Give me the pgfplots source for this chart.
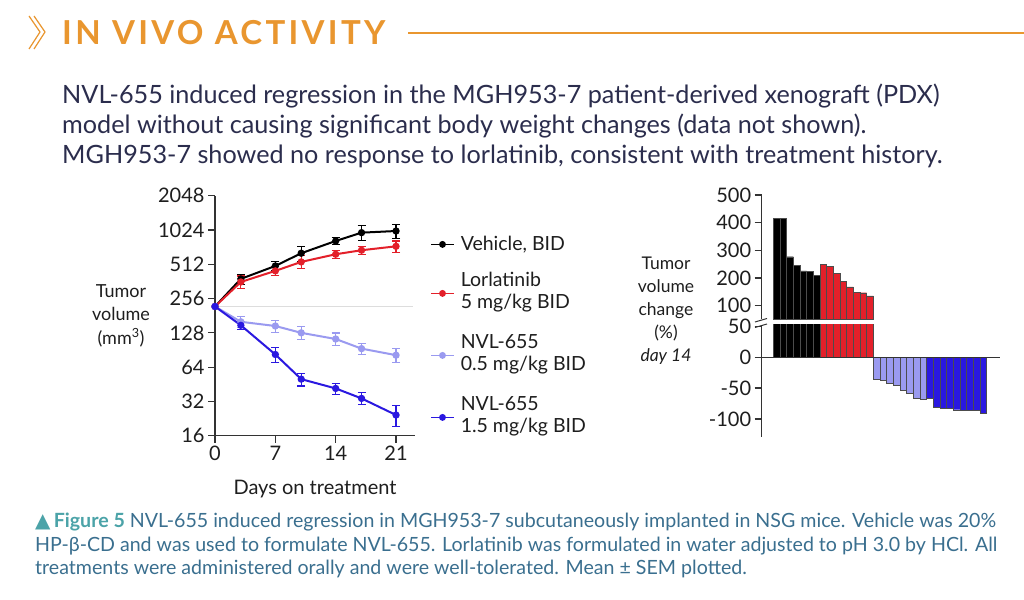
\documentclass[border=0pt]{standalone}
\usepackage{pgfplots}
\pgfplotsset{compat=1.18}
\usepackage{fontspec}
\setmainfont{Lato}
\newfontfamily\symfont{DejaVu Sans}
\definecolor{orangeT}{HTML}{E9962F}
\definecolor{navy}{HTML}{2B2D4D}
\definecolor{capT}{HTML}{3A6F8F}
\definecolor{capB}{HTML}{4BA3A8}
\definecolor{axc}{HTML}{333333}
\definecolor{txt}{HTML}{1E1E1E}
\definecolor{redC}{HTML}{E3202A}
\definecolor{lblue}{HTML}{9A9AF0}
\definecolor{dblue}{HTML}{2A18E0}
\definecolor{baseg}{HTML}{DDDDDD}

\pgfplotsset{
  errs/.style={forget plot, only marks, mark=none,
    error bars/.cd, y dir=both, y explicit,
    error bar style={color=#1, line width=1.1pt},
    error mark options={rotate=90, mark size=4pt, color=#1, line width=1.1pt}},
  ser/.style={color=#1, line width=2pt, mark=*, mark size=2.6pt, mark options={solid, fill=#1}},
  common/.style={
    scale only axis,
    axis line style={-, line width=1.2pt, color=axc},
    tick align=outside, major tick length=7pt,
    tick style={line width=1.2pt, color=axc},
    ticklabel style={font=\fontsize{20}{20}\selectfont, text=txt},
    /pgf/number format/assume math mode=true,
  },
  bars/.style={ybar, bar shift=0pt, bar width=1, fill=#1, draw=black!70, line width=0.4pt},
}

\begin{document}
\begin{tikzpicture}[x=1pt,y=1pt]
\path[fill=white,use as bounding box] (0,0) rectangle (1024,599);

% header
\draw[orangeT, line width=1.2pt] (29,583) -- (40,567) -- (29,550);
\draw[orangeT, line width=1.2pt] (34,583) -- (45,567) -- (34,550);
\node[anchor=base west, inner sep=0, text=orangeT, font=\fontsize{33}{36}\selectfont\bfseries\addfontfeature{LetterSpace=10}] at (62,554) {IN VIVO ACTIVITY};
\draw[orangeT, line width=1.2pt] (408,566) -- (1024,566);

\begin{scope}[every node/.style={anchor=base west, inner sep=0, text=navy, font=\fontsize{25.2}{30}\selectfont}]
\node at (62,495.7) {NVL-655 induced regression in the MGH953-7 patient-derived xenograft (PDX)};
\node at (62,465.7) {model without causing significant body weight changes (data not shown).};
\node at (62,435.7) {MGH953-7 showed no response to lorlatinib, consistent with treatment history.};
\end{scope}

\begin{scope}[every node/.style={anchor=base west, inner sep=0, text=capT, font=\fontsize{19.6}{24}\selectfont}]
\node at (35,71.3) {{\color{capB}\symfont\fontsize{20}{20}\selectfont ▲}\,{\color{capB}\bfseries Figure 5} NVL-655 induced regression in MGH953-7 subcutaneously implanted in NSG mice. Vehicle was 20\%};
\node at (35,47.3) {HP-β-CD and was used to formulate NVL-655. Lorlatinib was formulated in water adjusted to pH 3.0 by HCl. All};
\node at (35,24) {treatments were administered orally and were well-tolerated. Mean ± SEM plotted.};
\end{scope}

% axis labels
\node[align=center, text=txt, font=\fontsize{18}{23.5}\selectfont] at (121,283.5) {Tumor\\volume\\(mm\textsuperscript{3})};
\node[text=txt, font=\fontsize{20}{22}\selectfont] at (315,110) {Days on treatment};
\node[align=center, text=txt, font=\fontsize{17.5}{23}\selectfont] at (666,288) {Tumor\\volume\\change\\(\%)\\\textit{day 14}};

% growth curves
\begin{axis}[common,
  at={(215pt,163.3pt)}, anchor=south west,
  width=200pt, height=240pt,
  xmin=0, xmax=23.2, ymin=16, ymax=2048,
  ymode=log, log basis y=2,
  axis x line*=bottom, axis y line*=left,
  xtick={0,7,14,21},
  ytick={16,32,64,128,256,512,1024,2048},
  yticklabels={16,32,64,128,256,512,1024,2048},
  clip=false,
  legend style={at={(1.075,0.8375)}, anchor=north west, draw=none, fill=none,
    font=\fontsize{19.5}{21.5}\selectfont, text=txt, row sep=17pt,
    inner sep=0pt, nodes={inner xsep=6pt, inner ysep=1pt, text depth=}},
  legend cell align=left,
  legend image code/.code={\draw[mark repeat=2,mark phase=2,line width=1.6pt] plot coordinates {(0pt,0pt) (11.5pt,0pt) (23pt,0pt)};},
]
\draw[baseg, line width=1.2pt] (axis cs:0,218) -- (axis cs:23,218);

\addplot[errs=black] coordinates {(3,381) +- (0,38) (7,495) +- (0,45) (10,640) +- (0,95) (14,820) +- (0,57) (17,970) +- (0,145) (21,1003) +- (0,140)};
\addplot[errs=redC] coordinates {(3,358) +- (0,46) (7,448) +- (0,38) (10,537) +- (0,70) (14,627) +- (0,53) (17,680) +- (0,52) (21,736) +- (0,84)};
\addplot[errs=lblue] coordinates {(3,160) +- (0,18) (7,147) +- (0,18) (10,128) +- (0,16.6) (14,113) +- (0,14.6) (17,93) +- (0,10.6) (21,81.5) +- (0,11.7)};
\addplot[errs=dblue] coordinates {(3,149) +- (0,12.5) (7,82.6) +- (0,11.9) (10,50.2) +- (0,6.5) (14,41.6) +- (0,4.7) (17,34) +- (0,4.1) (21,24.3) +- (0,5.2)};

\addplot[ser=black] coordinates {(0,218) (3,381) (7,495) (10,640) (14,820) (17,970) (21,1003)};
\addlegendentry{Vehicle, BID}
\addplot[ser=redC] coordinates {(0,218) (3,358) (7,448) (10,537) (14,627) (17,680) (21,736)};
\addlegendentry{\begin{tabular}{@{}l@{}}Lorlatinib\\5 mg/kg BID\end{tabular}}
\addplot[ser=lblue] coordinates {(0,218) (3,160) (7,147) (10,128) (14,113) (17,93) (21,81.5)};
\addlegendentry{\begin{tabular}{@{}l@{}}NVL-655\\0.5 mg/kg BID\end{tabular}}
\addplot[ser=dblue] coordinates {(0,218) (3,149) (7,82.6) (10,50.2) (14,41.6) (17,34) (21,24.3)};
\addlegendentry{\begin{tabular}{@{}l@{}}NVL-655\\1.5 mg/kg BID\end{tabular}}
\end{axis}

% waterfall, upper segment
\begin{axis}[common,
  at={(761.7pt,279.7pt)}, anchor=south west,
  width=238.3pt, height=124.3pt,
  xmin=-1.245, xmax=34.5, ymin=51, ymax=500,
  axis y line*=left, axis x line=none,
  ytick={100,200,300,400,500},
]
\addplot[bars=black] coordinates {(1,416) (2,416) (3,277) (4,247) (5,226) (6,225) (7,211)};
\addplot[bars=redC] coordinates {(8,250) (9,242) (10,216) (11,187) (12,168) (13,148) (14,147) (15,136)};
\end{axis}

% waterfall, lower segment
\begin{axis}[common,
  at={(761.7pt,162.3pt)}, anchor=south west,
  width=238.3pt, height=111.7pt,
  xmin=-1.245, xmax=34.5, ymin=-128.6, ymax=52,
  axis y line*=left, axis x line=none,
  ytick={-100,-50,0,50},
]
\addplot[bars=black] coordinates {(1,416) (2,416) (3,277) (4,247) (5,226) (6,225) (7,211)};
\addplot[bars=redC] coordinates {(8,250) (9,242) (10,216) (11,187) (12,168) (13,148) (14,147) (15,136)};
\addplot[bars=lblue] coordinates {(16,-36) (17,-38) (18,-42) (19,-45) (20,-53) (21,-59) (22,-66) (23,-68)};
\addplot[bars=dblue] coordinates {(24,-66) (25,-81) (26,-82) (27,-83) (28,-85) (29,-86) (30,-86) (31,-86) (32,-90)};
\draw[axc, line width=1.2pt] (axis cs:-1.245,0) -- (axis cs:34.5,0);
\end{axis}

% axis break marks
\draw[axc, line width=1pt] (755,277) -- (767,280.5);
\draw[axc, line width=1pt] (755,271.5) -- (767,275);
\end{tikzpicture}
\end{document}
